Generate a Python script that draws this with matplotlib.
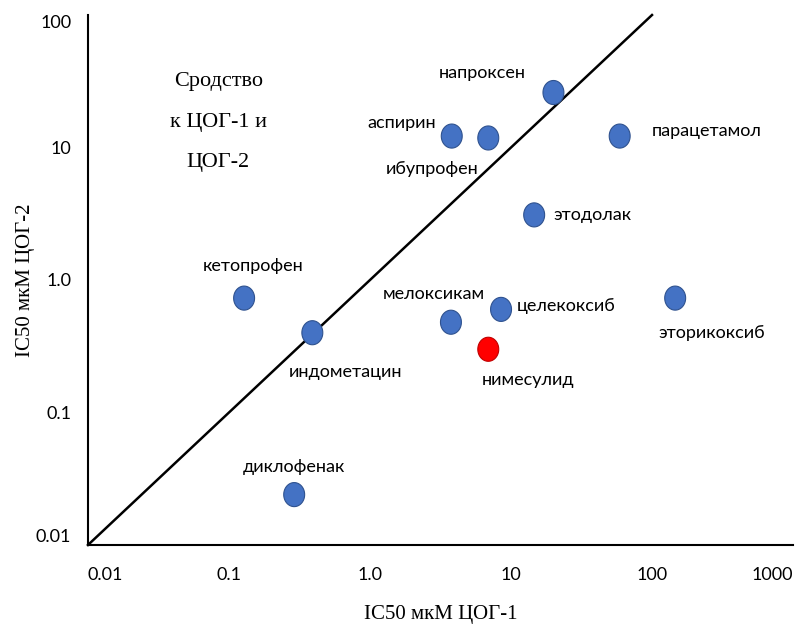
import matplotlib.pyplot as plt
import numpy as np

# IC50 values, мкМ
drugs = ['напроксен', 'аспирин', 'ибупрофен', 'парацетамол', 'этодолак',
         'кетопрофен', 'индометацин', 'мелоксикам', 'целекоксиб',
         'нимесулид', 'эторикоксиб', 'диклофенак']
cox1 = [20, 3.8, 6.9, 59, 14.6, 0.128, 0.39, 3.75, 8.5, 6.9, 146, 0.29]
cox2 = [26, 12.2, 11.8, 12.2, 3.1, 0.73, 0.40, 0.48, 0.60, 0.30, 0.73, 0.024]
highlight = 'нимесулид'

x_ticks = [0.01, 0.1, 1, 10, 100, 1000]
x_tick_labels = ['0.01', '0.1', '1.0', '10', '100', '1000']
y_ticks = [0.01, 0.1, 1, 10, 100]
y_tick_labels = ['0.01', '0.1', '1.0', '10', '100']

# label offsets (pixels) from each point
offsets = {
    'напроксен': (-71, 20), 'аспирин': (-50, 13), 'ибупрофен': (-56, -31),
    'парацетамол': (87, 5), 'этодолак': (58, 0), 'кетопрофен': (9, 32),
    'индометацин': (33, -39), 'мелоксикам': (-17, 28), 'целекоксиб': (65, 3),
    'нимесулид': (40, -31), 'эторикоксиб': (37, -35), 'диклофенак': (0, 28),
}

fig = plt.figure(figsize=(8.05, 6.28), dpi=100)
ax = fig.add_axes([0.1093, 0.1322, 0.8758, 0.8439])
ax.set_xscale('log')
ax.set_yscale('log')
ax.set_xlim(0.01, 1000)
ax.set_ylim(0.01, 100)

# line of equal affinity
diag = np.array([0.01, 100])
ax.plot(diag, diag, color='black', lw=1.8, clip_on=False, zorder=2)

# slightly tall oval marker like in the original
t = np.linspace(0, 2 * np.pi, 60)
oval = np.column_stack([0.87 * np.cos(t), np.sin(t)])

colors = ['#FF0000' if d == highlight else '#4472C4' for d in drugs]
edges = ['#C00000' if d == highlight else '#2F528F' for d in drugs]
ax.scatter(cox1, cox2, s=300, marker=oval, c=colors, edgecolors=edges,
           linewidths=0.8, zorder=3, clip_on=False)

label_font = 'Lato'
for d, xv, yv in zip(drugs, cox1, cox2):
    ax.annotate(d, (xv, yv), xytext=offsets[d], textcoords='offset pixels',
                ha='center', va='center', fontsize=13, family=label_font)

ax.text(0.185, 0.798, 'Сродство\n\nк ЦОГ-1 и\n\nЦОГ-2', transform=ax.transAxes,
        ha='center', va='center', fontsize=16, family='Liberation Serif',
        linespacing=1.1)

ax.set_xticks(x_ticks)
ax.set_xticklabels(x_tick_labels)
ax.set_yticks(y_ticks)
ax.set_yticklabels(y_tick_labels)
ax.minorticks_off()
ax.tick_params(axis='x', length=0, labelsize=13, pad=16)
ax.tick_params(axis='y', length=0, labelsize=13, pad=12)
for lbl in ax.get_xticklabels() + ax.get_yticklabels():
    lbl.set_family(label_font)
ax.get_xticklabels()[0].set_ha('left')
ax.get_xticklabels()[-1].set_ha('right')
ax.get_yticklabels()[0].set_va('bottom')
ax.get_yticklabels()[-1].set_va('top')

ax.set_xlabel('IC50 мкМ ЦОГ-1', family='Liberation Serif', fontsize=15, labelpad=16)
ax.set_ylabel('IC50 мкМ ЦОГ-2', family='Liberation Serif', fontsize=15, labelpad=1)

for s in ['top', 'right']:
    ax.spines[s].set_visible(False)
for s in ['left', 'bottom']:
    ax.spines[s].set_linewidth(1.5)

plt.savefig('out.png', dpi=100)
